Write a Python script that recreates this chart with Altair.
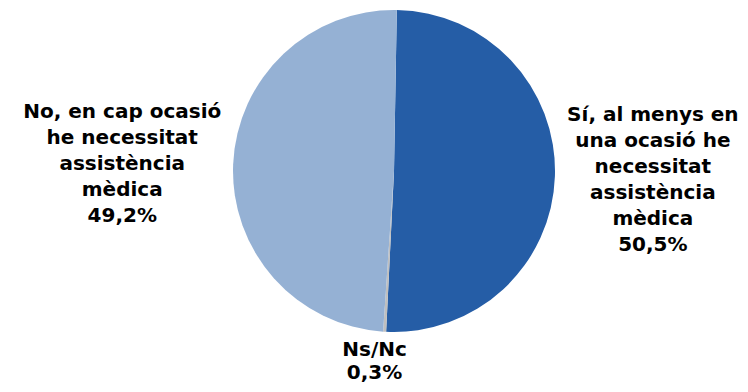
import altair as alt
import pandas as pd
import math

categories = ["Sí", "Ns/Nc", "No"]
values = [50.5, 0.3, 49.2]
labels = [
    "Sí, al menys en\nuna ocasió he\nnecessitat\nassistència\nmèdica\n50,5%",
    "Ns/Nc\n0,3%",
    "No, en cap ocasió\nhe necessitat\nassistència\nmèdica\n49,2%",
]
colors = ["#255DA6", "#BFBFBF", "#95B1D4"]
order = [0, 1, 2]

ROT = math.radians(1.0)

df = pd.DataFrame({"cat": categories, "value": values, "label": labels, "ord": order})

base = alt.Chart(df).transform_window(
    cum="sum(value)", sort=[{"field": "ord"}], frame=[None, 0]
).transform_joinaggregate(total="sum(value)").transform_calculate(
    mid=f"(datum.cum - datum.value / 2) / datum.total * 2 * PI + {ROT}"
)

pie = alt.Chart(df).mark_arc(radius=161).encode(
    theta=alt.Theta("value:Q", stack=True, scale=alt.Scale(range=[ROT, ROT + 2 * math.pi])),
    color=alt.Color("cat:N", scale=alt.Scale(domain=categories, range=colors), legend=None),
    order=alt.Order("ord:Q"),
)

def label_layer(cat, r, dx=0, dy=0, lh=26):
    return base.transform_filter(alt.datum.cat == cat).mark_text(
        radius=r, dx=dx, dy=dy, font="DejaVu Sans", fontSize=20, fontWeight="bold",
        lineBreak="\n", lineHeight=lh, align="center", baseline="middle", color="#000000",
    ).encode(
        theta=alt.Theta("mid:Q", scale=None),
        text="label:N",
    )

chart = alt.layer(
    pie,
    label_layer("Sí", 259, dy=-65),
    label_layer("Ns/Nc", 197, dx=-8, dy=-18, lh=23),
    label_layer("No", 272, dy=-47),
).properties(
    width=600, height=326,
    autosize=alt.AutoSizeParams(type="none"),
    padding={"left": 86, "top": 0, "right": 46, "bottom": 50},
).configure_view(stroke=None)

chart.save("out.html", embed_options={"renderer": "svg", "actions": False})
